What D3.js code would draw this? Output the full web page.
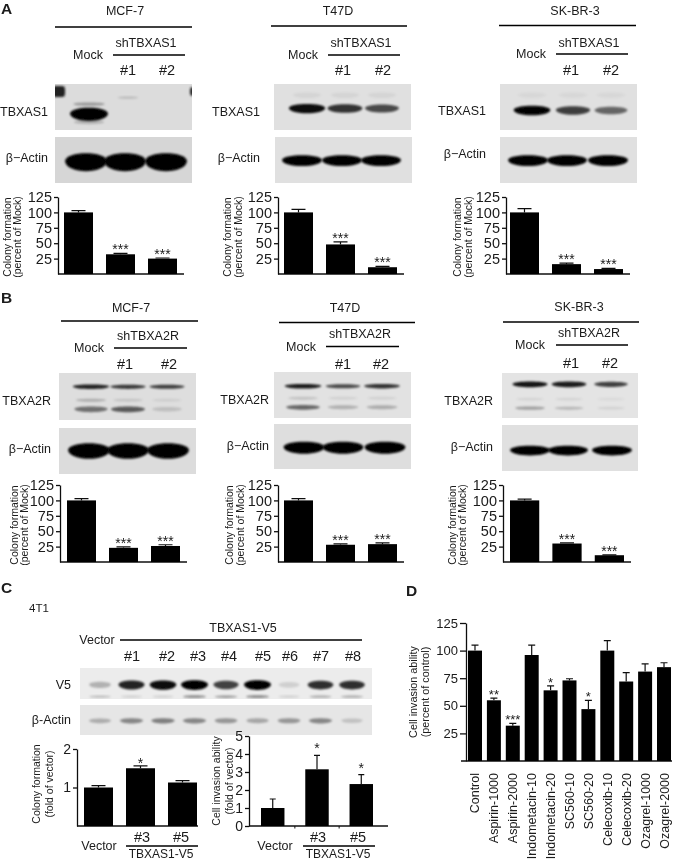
<!DOCTYPE html>
<html>
<head>
<meta charset="utf-8" />
<title>TBXAS1 / TBXA2R colony formation and invasion</title>
<script src="https://d3js.org/d3.v7.min.js"></script>
<style>
  html, body { margin: 0; padding: 0; background: #fff; }
  svg { display: block; }
  text { font-family: "Liberation Sans", Arial, sans-serif; fill: #1a1a1a; }
  .domain, .tick line { stroke: #111; stroke-width: 1.3; }
</style>
</head>
<body>
<script>
// colony formation bars
var colonyLanes = ["Mock", "#1", "#2"];
var percentTicks = [25, 50, 75, 100, 125];
var a1Values = [100, 32, 25], a1Errors = [3, 1.5, 1];
var a2Values = [100, 48, 11], a2Errors = [5, 4, 1.5];
var a3Values = [100, 16, 8], a3Errors = [6, 1.5, 1];
var b1Values = [100, 23, 26], b1Errors = [3, 1.5, 2];
var b2Values = [100, 28, 29], b2Errors = [3, 1.5, 2];
var b3Values = [100, 30, 11], b3Errors = [2, 1, 0.5];
var colonyStars = ["", "***", "***"];

// panel C
var cGroups = ["Vector", "#3", "#5"];
var c1Ticks = [1, 2], c1Values = [1, 1.5, 1.13], c1Errors = [0.05, 0.06, 0.05], c1Stars = ["", "*", ""];
var c2Ticks = [0, 1, 2, 3, 4, 5], c2Values = [1, 3.15, 2.33], c2Errors = [0.5, 0.77, 0.52], c2Stars = ["", "*", "*"];
var cLanes = ["Vector", "#1", "#2", "#3", "#4", "#5", "#6", "#7", "#8"];

// panel D
var dDrugs = ["Control", "Aspirin-1000", "Aspirin-2000", "Indometacin-10", "Indometacin-20", "SC560-10", "SC560-20", "Celecoxib-10", "Celecoxib-20", "Ozagrel-1000", "Ozagrel-2000"];
var dValues = [100, 55, 32, 96, 64, 73, 47, 100, 72, 81, 85];
var dErrors = [5, 2, 2, 9, 4, 1.5, 8, 9, 8, 7, 4];
var dStars = ["", "**", "***", "", "*", "", "*", "", "", "", ""];

// band strength per lane (0 = nothing, 1 = saturated)
var a1Main = [1, 0, 0], a1Upper = [0.3, 0, 0], a1Lower = [0.2, 0, 0], a1Faint = [0, 0.16, 0], a1Actin = [1, 1, 1];
var a2Main = [0.95, 0.78, 0.68], a2Ghost = [0.05, 0.05, 0.05], a2Actin = [1, 1, 1];
var a3Main = [0.98, 0.72, 0.55], a3Ghost = [0.04, 0.04, 0.04], a3Actin = [1, 1, 1];
var b1Top = [0.85, 0.75, 0.72], b1Mid = [0.22, 0.12, 0.08], b1Low = [0.5, 0.6, 0.14], b1Actin = [1, 1, 1];
var b2Top = [0.88, 0.68, 0.78], b2Mid = [0.14, 0.08, 0.08], b2Low = [0.55, 0.22, 0.24], b2Actin = [1, 1, 1];
var b3Top = [0.92, 0.88, 0.72], b3Mid = [0.07, 0.07, 0.05], b3Low = [0.3, 0.2, 0.08], b3Actin = [1, 1, 1];
var cV5Main = [0.25, 0.85, 0.95, 1, 0.72, 1, 0.12, 0.8, 0.8];
var cV5Low = [0.2, 0.12, 0.12, 0.4, 0.35, 0.42, 0.12, 0.28, 0.28];
var cActin = [0.25, 0.42, 0.45, 0.42, 0.35, 0.28, 0.35, 0.42, 0.16];

var shA = "shTBXAS1", shB = "shTBXA2R";

var width = 675, height = 860;
var svg = d3.select("body").append("svg").attr("width", width).attr("height", height);
var defs = svg.append("defs");
defs.append("filter").attr("id", "soft").attr("x", "-20%").attr("y", "-60%").attr("width", "140%").attr("height", "220%")
  .append("feGaussianBlur").attr("stdDeviation", 1);
defs.append("filter").attr("id", "print").attr("x", 0).attr("y", 0).attr("width", width).attr("height", height)
  .attr("filterUnits", "userSpaceOnUse")
  .append("feGaussianBlur").attr("stdDeviation", 0.3);
var root = svg.append("g").attr("filter", "url(#print)");
root.append("rect").attr("width", width).attr("height", height).attr("fill", "#fff");

var clipCount = 0;

function label(x, y, str, size, anchor, weight) {
  return root.append("text").attr("x", x).attr("y", y).attr("font-size", size)
    .attr("text-anchor", anchor || "middle").attr("font-weight", weight || null).text(str);
}

function rule(x1, x2, y) {
  root.append("line").attr("x1", x1).attr("x2", x2).attr("y1", y).attr("y2", y)
    .attr("stroke", "#000").attr("stroke-width", 1.4);
}

function bandPath(cx, cy, w, t) {
  var l = cx - w / 2, r = cx + w / 2;
  return "M" + l + "," + cy +
    "C" + (l + w * 0.02) + "," + (cy - t * 0.7) + " " + (r - w * 0.02) + "," + (cy - t * 0.7) + " " + r + "," + cy +
    "C" + (r - w * 0.02) + "," + (cy + t * 0.9) + " " + (l + w * 0.02) + "," + (cy + t * 0.9) + " " + l + "," + cy + "Z";
}

function blot(o) {
  var id = "blot" + (clipCount++);
  defs.append("clipPath").attr("id", id).append("rect")
    .attr("x", o.x).attr("y", o.y).attr("width", o.w).attr("height", o.h);
  var g = root.append("g").attr("clip-path", "url(#" + id + ")");
  g.append("rect").attr("x", o.x).attr("y", o.y).attr("width", o.w).attr("height", o.h).attr("fill", o.bg);
  o.rows.forEach(function(r) {
    var lane = o.lanes.length === r.levels.length
      ? function(i) { return o.lanes[i]; }
      : d3.scalePoint().domain(d3.range(r.levels.length)).range(o.lanes);
    g.selectAll(null).data(r.levels).enter().append("path")
      .attr("d", function(d, i) {
        return bandPath(lane(i), r.y, (r.w || o.laneW) * (0.75 + 0.25 * d), r.t * (0.55 + 0.45 * d));
      })
      .attr("fill", "#000").attr("fill-opacity", function(d) { return d; }).attr("filter", "url(#soft)");
  });
  (o.spots || []).forEach(function(s) {
    g.append("rect").attr("x", s[0]).attr("y", s[1]).attr("width", s[2]).attr("height", s[3])
      .attr("rx", 3).attr("fill", "#222").attr("filter", "url(#soft)");
  });
}

function barChart(o) {
  var g = root.append("g");
  var x = d3.scaleBand().domain(o.cats).range([o.barL, o.barR]).paddingInner(o.gap).paddingOuter(0);
  var y = d3.scaleLinear().domain([0, o.max]).range([o.y0, o.yTop]);

  var axis = d3.axisLeft(y).tickValues(o.ticks).tickSizeInner(o.tick || 4).tickSizeOuter(0).tickPadding(2)
    .tickFormat(d3.format("d"));
  var ag = g.append("g").attr("transform", "translate(" + o.axisX + ",0)").call(axis);
  ag.selectAll("text").attr("font-size", o.tickFont).attr("fill", "#111");

  g.append("line").attr("x1", o.baseL || o.axisX).attr("x2", o.xEnd).attr("y1", o.y0).attr("y2", o.y0)
    .attr("stroke", "#111").attr("stroke-width", 1.3);

  g.selectAll(".bar").data(o.cats).enter().append("rect")
    .attr("class", "bar")
    .attr("x", function(d) { return x(d); })
    .attr("width", x.bandwidth())
    .attr("y", function(d, i) { return y(o.values[i]); })
    .attr("height", function(d, i) { return o.y0 - y(o.values[i]); })
    .attr("fill", "#000");

  g.selectAll(".err").data(o.cats).enter().append("path")
    .attr("class", "err")
    .attr("fill", "none").attr("stroke", "#111").attr("stroke-width", 1.2)
    .attr("d", function(d, i) {
      var cx = x(d) + x.bandwidth() / 2, top = y(o.values[i] + o.errors[i]), bot = y(o.values[i]);
      return "M" + cx + "," + bot + "V" + top + "M" + (cx - o.cap) + "," + top + "H" + (cx + o.cap);
    });

  g.selectAll(".star").data(o.cats).enter().append("text")
    .attr("class", "star")
    .attr("x", function(d) { return x(d) + x.bandwidth() / 2; })
    .attr("y", function(d, i) { return y(o.values[i] + o.errors[i]) + (o.starDy || 2); })
    .attr("text-anchor", "middle").attr("font-size", o.starFont || 14)
    .text(function(d, i) { return o.stars[i]; });

  // titleX holds the centre of each rotated line
  o.yTitle.forEach(function(line, i) {
    g.append("text").attr("font-size", o.titleFont || 10.5).attr("text-anchor", "middle")
      .attr("transform", "translate(" + (o.titleX[i] + 4) + "," + o.titleY + ")rotate(-90)").text(line);
  });
  return x;
}

function westernPanel(o) {
  label(o.titleX, o.titleY, o.title, 12.5);
  rule(o.ruleX[0], o.ruleX[1], o.ruleY);
  label(o.shX, o.shY, o.sh, 12.5);
  rule(o.shRule[0], o.shRule[1], o.shRuleY);
  label(o.mockX, o.mockY, colonyLanes[0], 12.5);
  label(o.hashX[0], o.hashY, colonyLanes[1], 14.5);
  label(o.hashX[1], o.hashY, colonyLanes[2], 14.5);
  label(o.targetLabelX, o.targetLabelY, o.target, 12.5, "end");
  label(o.targetLabelX, o.actinLabelY, "β−Actin", 12.5, "end");
  blot(o.blotTop);
  blot(o.blotActin);
  barChart({
    cats: colonyLanes, values: o.values, errors: o.errors, stars: colonyStars, ticks: percentTicks, max: 125,
    axisX: o.axisX, xEnd: o.xEnd, barL: o.barL, barR: o.barR, gap: 0.31, y0: o.y0, yTop: o.y0 - 77,
    tickFont: 14.5, cap: 7, starDy: 1,
    yTitle: ["Colony formation", "(percent of Mock)"], titleX: o.yTitleX, titleY: o.y0 - 37
  });
}

westernPanel({
  title: "MCF-7", sh: shA, target: "TBXAS1", titleX: 125, titleY: 15, ruleX: [55, 192], ruleY: 27,
  shX: 146, shY: 47, shRule: [113, 185], shRuleY: 55, mockX: 88, mockY: 59, hashX: [128, 167], hashY: 75,
  targetLabelX: 48, targetLabelY: 116, actinLabelY: 162,
  blotTop: { x: 55, y: 84, w: 137, h: 46, bg: "#dcdcdc", lanes: [89, 128, 167], laneW: 38, spots: [[52, 86, 13, 11], [190, 87, 6, 9]],
    rows: [{ y: 113.5, t: 11, levels: a1Main }, { y: 104, t: 4, levels: a1Upper }, { y: 122, t: 5, levels: a1Lower }, { y: 97.5, t: 3, w: 26, levels: a1Faint }] },
  blotActin: { x: 55, y: 137, w: 137, h: 46, bg: "#d6d6d6", lanes: [86, 125, 166], laneW: 42,
    rows: [{ y: 161, t: 15, levels: a1Actin }] },
  values: a1Values, errors: a1Errors, axisX: 58, xEnd: 184, barL: 64, barR: 177, y0: 274, yTitleX: [7, 17]
});

westernPanel({
  title: "T47D", sh: shA, target: "TBXAS1", titleX: 338, titleY: 15, ruleX: [271, 407], ruleY: 26,
  shX: 361, shY: 47, shRule: [328, 400], shRuleY: 55, mockX: 303, mockY: 59, hashX: [343, 383], hashY: 75,
  targetLabelX: 260, targetLabelY: 116, actinLabelY: 162,
  blotTop: { x: 274, y: 84, w: 137, h: 46, bg: "#e0e0e0", lanes: [307, 345, 382], laneW: 37,
    rows: [{ y: 108, t: 8, levels: a2Main }, { y: 95, t: 8, levels: a2Ghost }] },
  blotActin: { x: 275, y: 137, w: 137, h: 46, bg: "#e0e0e0", lanes: [302, 342, 381], laneW: 40,
    rows: [{ y: 160, t: 9, levels: a2Actin }] },
  values: a2Values, errors: a2Errors, axisX: 278, xEnd: 404, barL: 284, barR: 397, y0: 274, yTitleX: [227, 238]
});

westernPanel({
  title: "SK-BR-3", sh: shA, target: "TBXAS1", titleX: 575, titleY: 15, ruleX: [499, 636], ruleY: 25.5,
  shX: 589, shY: 47, shRule: [556, 628], shRuleY: 54, mockX: 531, mockY: 58, hashX: [571, 611], hashY: 75,
  targetLabelX: 486, targetLabelY: 115, actinLabelY: 158,
  blotTop: { x: 500, y: 84, w: 137, h: 46, bg: "#e0e0e0", lanes: [532, 573, 611], laneW: 37,
    rows: [{ y: 110, t: 8, levels: a3Main }, { y: 95, t: 8, levels: a3Ghost }] },
  blotActin: { x: 500, y: 137, w: 137, h: 46, bg: "#e0e0e0", lanes: [528, 567, 608], laneW: 40,
    rows: [{ y: 160, t: 9, levels: a3Actin }] },
  values: a3Values, errors: a3Errors, axisX: 506, xEnd: 630, barL: 510, barR: 623, y0: 274, yTitleX: [457, 468]
});

westernPanel({
  title: "MCF-7", sh: shB, target: "TBXA2R", titleX: 131, titleY: 312, ruleX: [61, 198], ruleY: 321,
  shX: 148, shY: 340, shRule: [114, 187], shRuleY: 348, mockX: 89, mockY: 352, hashX: [125, 169], hashY: 369,
  targetLabelX: 51, targetLabelY: 405, actinLabelY: 453,
  blotTop: { x: 59, y: 373, w: 137, h: 47, bg: "#dedede", lanes: [91, 128, 167], laneW: 38,
    rows: [{ y: 386.5, t: 4, levels: b1Top }, { y: 400, t: 4, levels: b1Mid }, { y: 409, t: 6, levels: b1Low }] },
  blotActin: { x: 59, y: 428, w: 137, h: 46, bg: "#dcdcdc", lanes: [89, 128, 168], laneW: 42,
    rows: [{ y: 450, t: 13, levels: b1Actin }] },
  values: b1Values, errors: b1Errors, axisX: 60, xEnd: 187, barL: 67, barR: 180, y0: 562, yTitleX: [14, 24]
});

westernPanel({
  title: "T47D", sh: shB, target: "TBXA2R", titleX: 345, titleY: 312, ruleX: [279, 415], ruleY: 322.5,
  shX: 360, shY: 338, shRule: [326, 399], shRuleY: 346.5, mockX: 301, mockY: 351, hashX: [343, 381], hashY: 369,
  targetLabelX: 269, targetLabelY: 404, actinLabelY: 450,
  blotTop: { x: 274, y: 372, w: 137, h: 46, bg: "#e2e2e2", lanes: [303, 343, 382], laneW: 38,
    rows: [{ y: 386, t: 4, levels: b2Top }, { y: 398, t: 4, levels: b2Mid }, { y: 407, t: 5, levels: b2Low }] },
  blotActin: { x: 274, y: 424, w: 137, h: 45, bg: "#dedede", lanes: [304, 343, 385], laneW: 41,
    rows: [{ y: 447, t: 10, levels: b2Actin }] },
  values: b2Values, errors: b2Errors, axisX: 278, xEnd: 404, barL: 284, barR: 397, y0: 562, yTitleX: [229, 240]
});

westernPanel({
  title: "SK-BR-3", sh: shB, target: "TBXA2R", titleX: 579, titleY: 311, ruleX: [503, 639], ruleY: 322,
  shX: 589, shY: 337, shRule: [556, 628], shRuleY: 345, mockX: 530, mockY: 349, hashX: [571, 610], hashY: 368,
  targetLabelX: 493, targetLabelY: 405, actinLabelY: 451,
  blotTop: { x: 502, y: 373, w: 136, h: 45, bg: "#e4e4e4", lanes: [530, 569, 611], laneW: 36,
    rows: [{ y: 384, t: 5, levels: b3Top }, { y: 399, t: 4, levels: b3Mid }, { y: 408, t: 4, levels: b3Low }] },
  blotActin: { x: 502, y: 425, w: 136, h: 46, bg: "#e0e0e0", lanes: [530, 568, 612], laneW: 40,
    rows: [{ y: 450, t: 8, levels: b3Actin }] },
  values: b3Values, errors: b3Errors, axisX: 503, xEnd: 631, barL: 510, barR: 624, y0: 562, yTitleX: [452, 462]
});

// panel letters
label(1, 14, "A", 15.5, "start", "bold");
label(1, 303, "B", 15.5, "start", "bold");
label(1, 593, "C", 15.5, "start", "bold");
label(406, 596, "D", 15.5, "start", "bold");

// panel C header and blots
label(29, 612, "4T1", 11.5, "start");
label(243, 632, "TBXAS1-V5", 12.5);
label(97, 644, cLanes[0], 12.5);
rule(120, 362, 640);
var hashCentres = [132, 167, 198, 229, 263, 290, 321, 353];
cLanes.slice(1).forEach(function(d, i) { label(hashCentres[i], 661, d, 14.5); });
label(71, 689, "V5", 12.5, "end");
label(71, 724, "β-Actin", 12.5, "end");
blot({ x: 80, y: 668, w: 292, h: 31, bg: "#ececec", lanes: [100, 352], laneW: 27,
  rows: [{ y: 684.5, t: 8, levels: cV5Main }, { y: 696.5, t: 3, levels: cV5Low }] });
blot({ x: 80, y: 705, w: 292, h: 30, bg: "#e6e6e6", lanes: [100, 352], laneW: 27,
  rows: [{ y: 720.5, t: 6, levels: cActin }] });

// panel C bars
barChart({
  cats: cGroups, values: c1Values, errors: c1Errors, stars: c1Stars, ticks: c1Ticks, max: 2,
  axisX: 77, xEnd: 198, barL: 84, barR: 197, gap: 0.31, y0: 826, yTop: 749, tickFont: 14, cap: 7, starDy: 2,
  yTitle: ["Colony formation", "(fold of vector)"], titleX: [36, 49], titleY: 784
});
label(99, 850, cGroups[0], 12.5);
label(142, 842, cGroups[1], 14.5);
label(181, 842, cGroups[2], 14.5);
rule(126, 198, 846);
label(161, 858, "TBXAS1-V5", 12);

var c2x = barChart({
  cats: cGroups, values: c2Values, errors: c2Errors, stars: c2Stars, ticks: c2Ticks, max: 5,
  axisX: 249, xEnd: 388, barL: 261, barR: 373, gap: 0.47, y0: 826, yTop: 736, tickFont: 14, cap: 3, starDy: -2,
  yTitle: ["Cell invasion ability", "(fold of vector)"], titleX: [216, 229], titleY: 781
});
// small ticks between the bars on the invasion chart
root.selectAll(null).data(cGroups.slice(1)).enter().append("line")
  .attr("x1", function(d) { return c2x(d) - c2x.step() * c2x.paddingInner() / 2; })
  .attr("x2", function(d) { return c2x(d) - c2x.step() * c2x.paddingInner() / 2; })
  .attr("y1", 826).attr("y2", 828.5).attr("stroke", "#111");
label(275, 850, cGroups[0], 12.5);
label(318, 842, cGroups[1], 14.5);
label(358, 842, cGroups[2], 14.5);
rule(303, 375, 846);
label(338, 858, "TBXAS1-V5", 12);

// panel D bars
var dx = barChart({
  cats: dDrugs, values: dValues, errors: dErrors, stars: dStars, ticks: percentTicks, max: 125, tick: 6,
  axisX: 466, baseL: 461, xEnd: 672, barL: 468, barR: 671, gap: 0.26, y0: 761, yTop: 623, tickFont: 13, cap: 3.5, starDy: 1, starFont: 13,
  yTitle: ["Cell invasion ability", "(percent of control)"], titleX: [413, 425], titleY: 692, titleFont: 10.8
});
root.selectAll(null).data(dDrugs).enter().append("text")
  .attr("font-size", 12.5).attr("text-anchor", "end")
  .attr("transform", function(d) { return "translate(" + (dx(d) + dx.bandwidth() / 2 + 4.5) + ",773)rotate(-90)"; })
  .text(function(d) { return d; });
</script>
</body>
</html>
